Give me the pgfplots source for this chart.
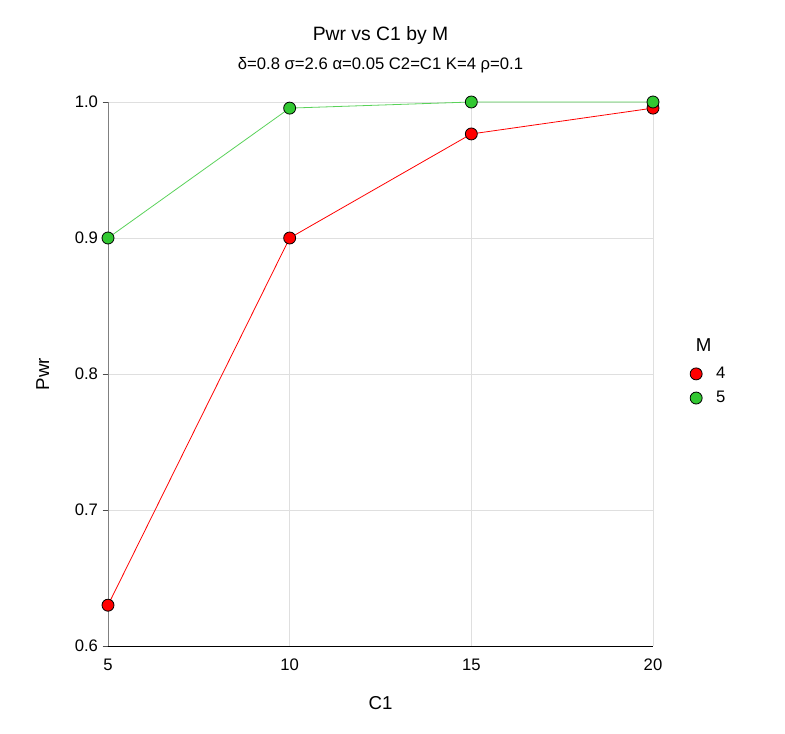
\documentclass[border=0pt]{standalone}
\usepackage{pgfplots}
\pgfplotsset{compat=1.18}
\usepackage{fontspec}
\setmainfont{Liberation Sans}
\definecolor{myred}{RGB}{255,0,0}
\definecolor{mygreen}{RGB}{50,200,50}
\definecolor{mygreenline}{RGB}{90,210,90}
\pgfplotsset{mylegimg/.style={legend image code/.code={\draw[mark repeat=2,mark phase=2,##1] plot coordinates {(0cm,0cm) (0.3cm,0cm) (0.6cm,0cm)}; \path (0cm,0cm) (0.75cm,0cm);}}}
\begin{document}
\begin{tikzpicture}[x=1pt,y=1pt]
\begin{axis}[
  at={(0,0)}, anchor=origin,
  scale only axis,
  width=408.75pt, height=408pt,
  xmin=5, xmax=20, ymin=0.6, ymax=1.0,
  xtick={5,10,15,20}, ytick={0.6,0.7,0.8,0.9,1.0},
  yticklabel style={/pgf/number format/.cd,fixed,fixed zerofill,precision=1},
  /pgf/number format/assume math mode=true,
  ticklabel style={font=\fontsize{12.5}{14}\selectfont},
  xticklabel style={yshift=-2pt},
  axis x line=bottom, axis y line=left,
  axis line style={-},
  x axis line style={black},
  y axis line style={gray},
  tick align=outside,
  major tick length=4pt,
  tick style={black!70},
  xtick style={draw=none},
  grid=major,
  major grid style={gray!25},
  clip=false,
  xlabel={C1}, ylabel={Pwr},
  xlabel style={font=\fontsize{14}{16}\selectfont, at={(axis description cs:0.5,0)}, anchor=center, yshift=-43pt},
  ylabel style={font=\fontsize{14}{16}\selectfont, at={(axis description cs:0,0.5)}, anchor=center, yshift=49pt},
  legend style={draw=none, fill=none, at={(axis description cs:1.05,0.478)}, anchor=west,
    font=\fontsize{12.5}{14}\selectfont, row sep=4pt, legend cell align=left},
]
\addplot[color=myred, line width=0.6pt, mark=*, mark size=4.5pt,
  mark options={fill=myred, draw=black, line width=0.6pt}, forget plot]
  coordinates {(5,0.630) (10,0.900) (15,0.9765) (20,0.9955)};
\addplot[color=mygreenline, line width=0.6pt, mark=*, mark size=4.5pt,
  mark options={fill=mygreen, draw=black, line width=0.6pt}, forget plot]
  coordinates {(5,0.900) (10,0.9955) (15,1.000) (20,1.000)};
\addlegendimage{only marks, mylegimg, mark=*, mark size=4.5pt, mark options={fill=myred, draw=black, line width=0.6pt}}
\addlegendentry{4}
\addlegendimage{only marks, mylegimg, mark=*, mark size=4.5pt, mark options={fill=mygreen, draw=black, line width=0.6pt}}
\addlegendentry{5}
\node[font=\fontsize{14}{16}\selectfont] at (axis description cs:1.093,0.553) {M};
\node[font=\fontsize{14.5}{16}\selectfont] at (axis description cs:0.5,1.123) {Pwr vs C1 by M};
\node[font=\fontsize{12.5}{14}\selectfont] at (axis description cs:0.5,1.068) {δ=0.8 σ=2.6 α=0.05 C2=C1 K=4 ρ=0.1};
\end{axis}
\useasboundingbox (-81pt,-66pt) rectangle (507.75pt,484.5pt);
\end{tikzpicture}
\end{document}
